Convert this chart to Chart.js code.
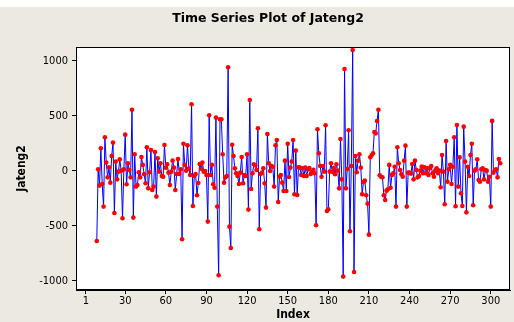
<!DOCTYPE html>
<html>
<head>
<meta charset="utf-8">
<script src="https://cdn.jsdelivr.net/npm/chart.js@4/dist/chart.umd.min.js"></script>
<style>
  html, body { margin: 0; padding: 0; background: #fff; }
</style>
</head>
<body>
<canvas id="chart" width="514" height="322"></canvas>
<script>
// values, index runs from startIndex
const startIndex = 9;
const jateng2 = [
  -636, 15, -133, 206, -118, -324, 306, 76, -58, 33, -106, 136, 258, -382, 85, -76, -6, 106, 3, -430, 15, 330, -121, 70,
  9, -58, 557, -424, 152, -142, -127, -12, -58, 127, 55, -30, -112, 215, -158, -12, 191, -173, -142, 173, -233, 115, -6, 70, -45, -52, 236, 30, 60, -15, -127,
  -6, 94, 30, -173, -27, 109, -27, 15, -621, 248, 55, 3, 233, 21, -36, 606, -318, -45, -27, -221, -109, 64, 20, 76, -6, 0, -36, -460, 506, -36, 55, -121, -152,
  485, -324, -948, 470, 470, 152, -106, -58, -45, 942, -506, -700, 239, 136, 24, -20, -45, -118, -15, 127, -112, -36, -45, 152, -351, 645, -164, -21, 60, 52, 9,
  388, -530, -27, -15, 24, -112, -333, 336, 70, 0, 45, 39, -142, 233, 282, -282, -52, -36, -106, -182, 94, -182, 248, -55, 30, 85, 282, -212, 185, -218, 33,
  30, -36, 24, -45, 30, -45, 15, 27, -27, -9, 10, -21, -494, 379, 161, 45, -52, 45, -6, 415, -364, -348, -6, 70, -6, 27, -30, 61, 3, -158, 291,
  -76, -960, 927, -158, 18, 370, -548, 45, 1100, -918, 136, -12, 94, 152, 30, -212, -100, -88, -221, -297, -579, 124, 142, 161, 354, 342, 454, 557, -39, -52, -58, -221, -264,
  -179, -167, 55, -152, -36, -21, 39, -324, 215, 70, 9, -30, -52, 94, 230, -324, -15, -15, -24, 64, -76, 94, 9, -58, -45, 3, 40, -21, 33, -21, 24,
  -36, 24, 45, -21, -52, 3, 24, -20, 3, -148, 145, -6, -303, 273, -97, 15, 55, -118, 39, 306, -321, 418, -142, 124, -203, -318, 403, 85, -376, 39, -45, 145,
  248, -312, 3, 15, 106, -82, -97, 15, 24, -76, 9, 3, -97, -52, -324, 455, -15, 9, 15, -58, 109, 70
];
const xTicks = [1, 30, 60, 90, 120, 150, 180, 210, 240, 270, 300];
const yTicks = [-1000, -500, 0, 500, 1000];

const points = jateng2.map((v, i) => ({ x: startIndex + i, y: v }));

const fontFamily = "'DejaVu Sans Condensed', 'DejaVu Sans', sans-serif";

const framePlugin = {
    id: "minitab_frame",
    beforeDraw(chart) {
        const ctx = chart.ctx;
        const a = chart.chartArea;
        ctx.save();
        ctx.fillStyle = "#ffffff";
        ctx.fillRect(0, 0, chart.width, chart.height);
        ctx.fillStyle = "rgb(236, 233, 224)";
        ctx.fillRect(0, 7, chart.width, chart.height - 7);
        ctx.fillStyle = "#ffffff";
        ctx.fillRect(a.left, a.top, a.right - a.left, a.bottom - a.top);
        ctx.restore();
    },
    afterDraw(chart) {
        const ctx = chart.ctx;
        const a = chart.chartArea;
        ctx.save();
        ctx.strokeStyle = "#000";
        ctx.lineWidth = 1;
        ctx.strokeRect(Math.round(a.left) + 0.5, Math.round(a.top) + 0.5,
            Math.round(a.right - a.left) - 1, Math.round(a.bottom - a.top) - 1);
        ctx.fillStyle = "#000";
        ctx.font = "bold 12.5px 'DejaVu Sans', sans-serif";
        ctx.textAlign = "center";
        ctx.textBaseline = "middle";
        ctx.fillText("Time Series Plot of Jateng2", 268, 19);
        ctx.restore();
    }
};

const config = {
    type: "line",
    data: {
        datasets: [{
            label: "Jateng2",
            data: points,
            borderColor: "#0000ff",
            borderWidth: 1,
            pointBackgroundColor: "#ff0000",
            pointBorderColor: "#ff0000",
            pointBorderWidth: 0,
            pointRadius: 2.3,
            tension: 0
        }]
    },
    options: {
        responsive: false,
        animation: false,
        layout: { padding: { top: 47, right: 2, left: 0, bottom: 0 } },
        plugins: {
            legend: { display: false },
            tooltip: { enabled: false }
        },
        scales: {
            x: {
                type: "linear",
                min: -6.35,
                max: 314.2,
                afterBuildTicks: s => { s.ticks = xTicks.map(v => ({ value: v })); },
                afterFit: s => { s.height = 32; },
                ticks: {
                    color: "#000",
                    font: { family: fontFamily, size: 11 },
                    padding: 1,
                    autoSkip: false,
                    maxRotation: 0,
                    callback: v => String(v)
                },
                grid: { drawOnChartArea: false, color: "#000", tickLength: 4 },
                border: { color: "#000" },
                title: {
                    display: true,
                    text: "Index",
                    color: "#000",
                    font: { family: fontFamily, size: 12, weight: "bold" },
                    padding: { top: 0, bottom: 0 }
                }
            },
            y: {
                min: -1082,
                max: 1127,
                afterBuildTicks: s => { s.ticks = yTicks.map(v => ({ value: v })); },
                afterFit: s => { s.width = 76; },
                ticks: {
                    color: "#000",
                    font: { family: fontFamily, size: 11 },
                    padding: 4,
                    callback: v => String(v)
                },
                grid: { drawOnChartArea: false, color: "#000", tickLength: 4 },
                border: { color: "#000" },
                title: {
                    display: true,
                    text: "Jateng2",
                    color: "#000",
                    font: { family: fontFamily, size: 12, weight: "bold" },
                    padding: { top: 15, bottom: 0 }
                }
            }
        }
    },
    plugins: [framePlugin]
};

new Chart(document.getElementById("chart"), config);
</script>
</body>
</html>
